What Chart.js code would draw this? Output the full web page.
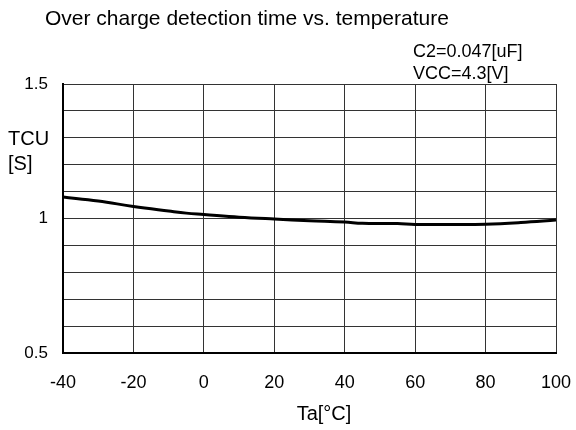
<!DOCTYPE html>
<html lang="en">
  <head>
    <meta charset="UTF-8" />
    <title>Over charge detection time vs. temperature</title>
    <script src="https://cdn.jsdelivr.net/npm/chart.js"></script>
    <style>
      body { margin: 0; background: #fff; }
      canvas { display: block; }
    </style>
  </head>
  <body>
    <canvas id="tcuChart" width="576" height="430"></canvas>

    <script>
      // data
      const temps = [-40, -30, -20, -10, -5, 0, 10, 20, 30, 40, 45, 55, 60, 70, 80, 90, 100];
      const tcu = [1.08, 1.065, 1.045, 1.028, 1.02, 1.015, 1.005, 0.998, 0.992, 0.987, 0.982, 0.981, 0.978, 0.978, 0.979, 0.985, 0.994];
      const yLabels = [0.5, 1, 1.5];

      const titleText = 'Over charge detection time vs. temperature';
      const noteLines = ['C2=0.047[uF]', 'VCC=4.3[V]'];
      const yTitle = ['TCU', '[S]'];
      const xTitle = 'Ta[°C]';

      const FONT = '"Liberation Sans", Arial, sans-serif';

      const textPlugin = {
        id: 'texts',
        afterDraw(chart) {
          const c = chart.ctx;
          c.save();
          c.fillStyle = '#000';
          c.textBaseline = 'middle';
          c.textAlign = 'left';
          c.font = '21px ' + FONT;
          c.fillText(titleText, 45, 19);
          c.font = '18px ' + FONT;
          c.fillText(noteLines[0], 413, 52);
          c.fillText(noteLines[1], 413, 74);
          c.font = '20px ' + FONT;
          c.fillText(yTitle[0], 8, 139);
          c.fillText(yTitle[1], 8, 164);
          c.textAlign = 'center';
          c.fillText(xTitle, 324, 414);
          c.restore();
        }
      };

      new Chart(document.getElementById('tcuChart'), {
        type: 'line',
        data: {
          datasets: [{
            data: temps.map((t, i) => ({ x: t, y: tcu[i] })),
            borderColor: '#000',
            borderWidth: 3,
            pointRadius: 0,
            tension: 0.4,
            fill: false
          }]
        },
        options: {
          responsive: false,
          animation: false,
          layout: { padding: { top: 84, right: 20, left: 0, bottom: 0 } },
          plugins: {
            legend: { display: false },
            tooltip: { enabled: false }
          },
          scales: {
            x: {
              type: 'linear',
              min: -40,
              max: 100,
              ticks: {
                stepSize: 20,
                color: '#000',
                font: { family: FONT, size: 18 },
                padding: 19,
                maxRotation: 0
              },
              grid: { color: '#333', lineWidth: 1, drawTicks: false },
              border: { color: '#000', width: 2 },
              afterFit(scale) {
                scale.height = 77;
                scale.paddingLeft = 0;
                scale.paddingRight = 0;
              }
            },
            y: {
              min: 0.5,
              max: 1.5,
              ticks: {
                stepSize: 0.1,
                color: '#000',
                font: { family: FONT, size: 17 },
                padding: 15,
                autoSkip: false,
                callback(v) {
                  const hit = yLabels.find(l => Math.abs(l - v) < 1e-6);
                  return hit === undefined ? '' : String(hit);
                }
              },
              grid: { color: '#333', lineWidth: 1, drawTicks: false },
              border: { color: '#000', width: 2 },
              afterFit(scale) {
                scale.width = 63;
                scale.paddingTop = 0;
                scale.paddingBottom = 0;
              }
            }
          }
        },
        plugins: [textPlugin]
      });
    </script>
  </body>
</html>
